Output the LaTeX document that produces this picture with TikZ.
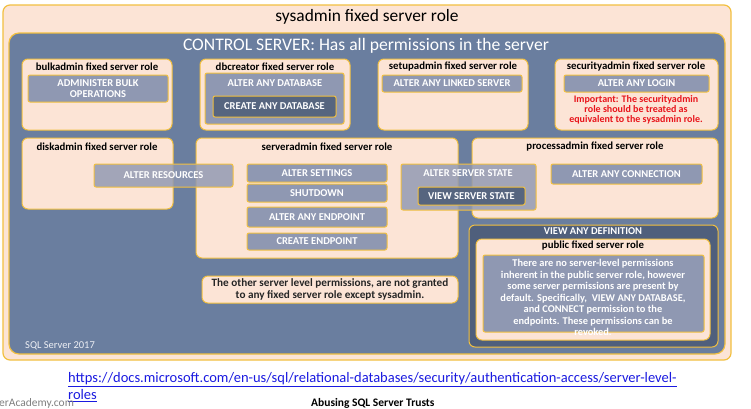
\documentclass[tikz,border=0pt]{standalone}
\usepackage{fontspec}
\setmainfont{Carlito}
\definecolor{peach}{HTML}{FCE4D6}
\definecolor{gold}{HTML}{F2C040}
\definecolor{slate}{HTML}{6A7E9F}
\definecolor{permgray}{HTML}{8F98B2}
\definecolor{darkperm}{HTML}{56657F}
\definecolor{darkdef}{HTML}{4F5F7C}
\definecolor{redtxt}{HTML}{E8141B}
\definecolor{linkblue}{HTML}{1A1AE0}
\newcommand\bx[7]{\node[#2, anchor=north west, inner sep=0pt, outer sep=0pt, minimum width={(#5-#3)*1pt}, minimum height={(#6-#4)*1pt}] (#1) at (#3,#4) {#7};}
\tikzset{
  outerbox/.style={draw=gold, fill=peach, line width=1.2pt, rounded corners=7pt},
  ctrlbox/.style={draw=gold, fill=slate, line width=1.2pt, rounded corners=10pt},
  rolebox/.style={draw=gold, fill=peach, line width=1pt, rounded corners=6pt},
  permbox/.style={draw=gold, fill=permgray, line width=1pt, rounded corners=2pt, text=white, font=\fontsize{10.5}{11}\selectfont\bfseries},
  permtr/.style={permbox, fill opacity=0.82, text opacity=1},
  darkbox/.style={draw=gold, fill=darkperm, line width=1pt, rounded corners=2pt, text=white, font=\fontsize{10.5}{11}\selectfont\bfseries},
  defbox/.style={draw=gold, fill=darkdef, line width=1pt, rounded corners=6pt},
  roletitle/.style={font=\fontsize{10.8}{12}\selectfont\bfseries, text=black, inner sep=0pt},
  permtitle/.style={font=\fontsize{10.5}{11}\selectfont\bfseries, text=white, inner sep=0pt},
}
\begin{document}
\begin{tikzpicture}[x=1pt,y=-1pt]
\useasboundingbox (0,0) rectangle (751,408);
\fill[white] (0,0) rectangle (751,408);
% outer sysadmin
\bx{sysadmin}{outerbox}{3}{5}{731}{360}{}
\node[font=\fontsize{17.4}{20}\selectfont, inner sep=0pt] (systitle) at (367,17) {sysadmin fixed server role};
% control server
\bx{ctrl}{ctrlbox}{9}{33}{725}{354}{}
\node[font=\fontsize{17.6}{20}\selectfont, text=white, inner sep=0pt] (ctrltitle) at (366,46) {CONTROL SERVER: Has all permissions in the server};
% row 1
\bx{bulk}{rolebox}{22}{59}{172}{130}{}
\node[roletitle] (bulkt) at (97,67) {bulkadmin fixed server role};
\bx{bulkp}{permbox}{28}{75}{168}{102}{}
\node[permtitle, align=center, font=\fontsize{10.5}{11}\selectfont\bfseries] (bulkpt) at (98,88.5) {ADMINISTER BULK\\OPERATIONS};
\bx{dbc}{rolebox}{200}{59}{350}{130}{}
\node[roletitle] (dbct) at (275,67) {dbcreator fixed server role};
\bx{altdb}{permbox}{205}{73}{344}{124}{}
\node[permtitle] (altdbt) at (275,83) {ALTER ANY DATABASE};
\bx{credb}{darkbox}{213}{96}{336}{117}{CREATE ANY DATABASE}
\bx{setup}{rolebox}{378}{59}{528}{130}{}
\node[roletitle] (setupt) at (453,67) {setupadmin fixed server role};
\bx{linked}{permbox}{382}{75}{522}{92}{ALTER ANY LINKED SERVER}
\bx{secu}{rolebox}{555}{59}{718}{130}{}
\node[roletitle] (secut) at (636,67) {securityadmin fixed server role};
\bx{login}{permbox}{564}{75}{709}{92}{ALTER ANY LOGIN}
\node[font=\fontsize{10}{10}\selectfont\bfseries, text=redtxt, align=center, inner sep=0pt] (secnote) at (636,109.5) {Important: The securityadmin\\role should be treated as\\equivalent to the sysadmin role.};
% row 2
\bx{disk}{rolebox}{22}{138}{173}{209}{}
\node[roletitle] (diskt) at (97,147) {diskadmin fixed server role};
\bx{serv}{rolebox}{196}{138}{458}{258}{}
\node[roletitle] (servt) at (327,147) {serveradmin fixed server role};
\bx{proc}{rolebox}{472}{138}{718}{218}{}
\node[roletitle] (proct) at (595,147) {processadmin fixed server role};
\bx{altres}{permtr}{94}{164}{233}{187}{ALTER RESOURCES}
\bx{altset}{permbox}{247}{164}{387}{182}{ALTER SETTINGS}
\bx{shut}{permbox}{247}{184}{387}{202}{SHUTDOWN}
\bx{altend}{permbox}{247}{207}{387}{227}{ALTER ANY ENDPOINT}
\bx{creend}{permbox}{247}{233}{387}{250}{CREATE ENDPOINT}
\bx{altstate}{permtr}{401}{164}{536}{210}{}
\node[permtitle] (altstatet) at (468,173) {ALTER SERVER STATE};
\bx{viewstate}{darkbox}{418}{187}{525}{205}{VIEW SERVER STATE}
\bx{altconn}{permbox}{551}{164}{702}{184}{ALTER ANY CONNECTION}
% other note
\bx{other}{rolebox}{202}{276}{458}{303}{}
\node[font=\fontsize{11.2}{11.5}\selectfont\bfseries, text=black!85, align=center, inner sep=0pt] (othert) at (330,289.5) {The other server level permissions, are not granted\\to any fixed server role except sysadmin.};
% view any definition
\bx{vdef}{defbox}{469}{225}{718}{347}{}
\node[permtitle] (vdeft) at (593,231.5) {VIEW ANY DEFINITION};
\bx{pub}{rolebox}{476}{239}{710}{340}{}
\node[roletitle] (pubt) at (593,246) {public fixed server role};
\bx{pubp}{permbox}{483}{255}{704}{332}{}
\node[font=\fontsize{10.4}{11.5}\selectfont\bfseries, text=white, align=center, inner sep=0pt, anchor=north] (pubtext) at (593,259) {There are no server-level permissions\\inherent in the public server role, however\\some server permissions are present by\\default. Specifically,\ \ VIEW ANY DATABASE,\\and CONNECT permission to the\\endpoints. These permissions can be\\revoked.};
\node[font=\fontsize{10.5}{12}\selectfont, text=white!88!slate, anchor=west, inner sep=0pt] (sqlver) at (25,346) {SQL Server 2017};
% footer
\node[font=\fontsize{14.5}{16}\selectfont, text=linkblue, anchor=west, inner sep=0pt] (url1) at (68,380) {\underline{https://docs.microsoft.com/en-us/sql/relational-databases/security/authentication-access/server-level-}};
\node[font=\fontsize{14.5}{16}\selectfont, text=linkblue, anchor=west, inner sep=0pt] (url2) at (68,396) {\underline{roles}};
\node[font=\fontsize{11.5}{14}\selectfont, text=gray, anchor=west, inner sep=0pt] (acad) at (-1,403) {erAcademy.com};
\node[font=\fontsize{11.5}{13}\selectfont\bfseries, anchor=west, inner sep=0pt] (abuse) at (311,403) {Abusing SQL Server Trusts};
\end{tikzpicture}
\end{document}
